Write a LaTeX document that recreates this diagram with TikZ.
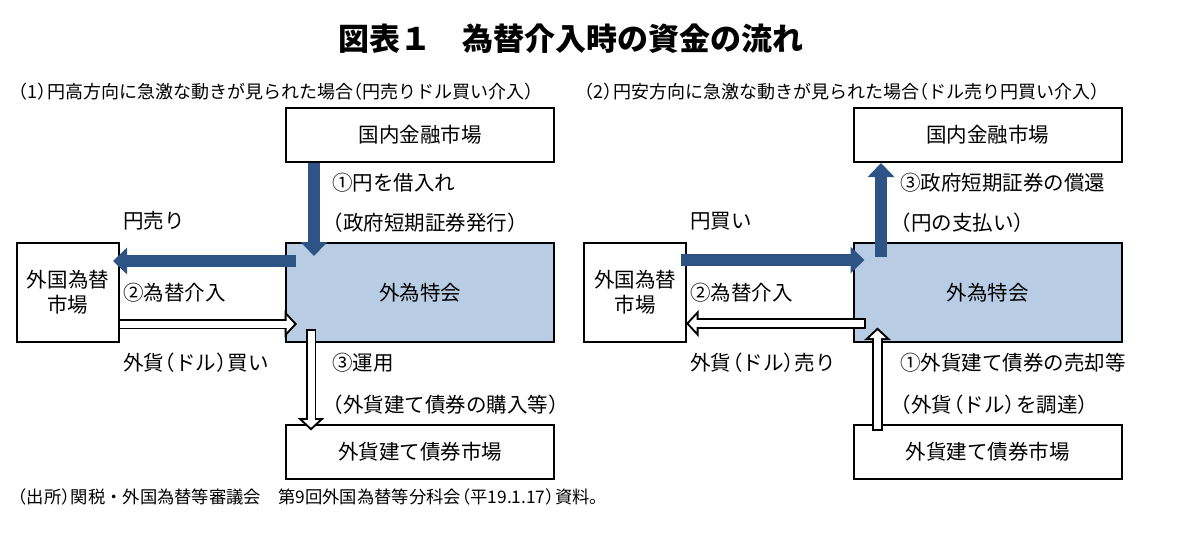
\documentclass[tikz,border=0pt]{standalone}
\usepackage{fontspec}
\setmainfont{Noto Sans CJK JP}
\usetikzlibrary{arrows.meta}
\definecolor{flowblue}{HTML}{2E5385}
\definecolor{boxblue}{HTML}{B8CCE4}
\newcommand{\lp}{\makebox[0.55em][r]{（}}
\newcommand{\rp}{\makebox[0.55em][l]{）}}
\tikzstyle{market} = [rectangle, draw=black, line width=2pt, fill=white, minimum width=268pt,
minimum height=54pt, inner sep=0pt, align=center, font=\fontsize{20.5}{25}\selectfont]
\tikzstyle{account} = [market, fill=boxblue, minimum height=99pt]
\tikzstyle{fxmarket} = [market, minimum width=102pt, minimum height=99pt]
\tikzstyle{flowtext} = [anchor=west, inner sep=0pt, font=\fontsize{20.5}{25}\selectfont]
\tikzstyle{note} = [anchor=west, inner sep=0pt, font=\fontsize{18}{21}\selectfont]
\tikzstyle{bluearrow} = [draw=flowblue, line width=12pt, -{Triangle[width=26pt,length=14pt]}]
\tikzstyle{hollowout} = [draw=black, line width=10.5pt, -{Triangle[width=26pt,length=12.5pt]}]
\tikzstyle{hollowin} = [draw=white, line width=7pt, shorten >=2.8pt, shorten <=1.75pt,
-{Triangle[width=16pt,length=7.7pt]}]
\newcommand{\hollowarrow}[2]{\draw[hollowout] #1 -- #2; \draw[hollowin] #1 -- #2;}

\begin{document}
\begin{tikzpicture}[x=1pt,y=-1pt]
    \useasboundingbox (0,0) rectangle (1198,538);
    \node[font=\fontsize{31}{36}\selectfont\bfseries] (title) at (571,39) {図表１　為替介入時の資金の流れ};
    \node[note] (caseL) at (17,92) {\lp 1\rp 円高方向に急激な動きが見られた場合\lp 円売りドル買い介入\rp};
    \node[note] (caseR) at (583,92) {\lp 2\rp 円安方向に急激な動きが見られた場合\lp ドル売り円買い介入\rp};
    \node[note, font=\fontsize{17.3}{20}\selectfont] (source) at (17,497)
        {\lp 出所\rp 関税・外国為替等審議会　第9回外国為替等分科会\lp 平19.1.17\rp 資料。};

    % (1) yen selling
    \node[market] (domesticL) at (420,135) {国内金融市場};
    \node[account] (tokkaiL) at (420,292.5) {外為特会};
    \node[fxmarket] (fxL) at (68,292.5) {外国為替\\市場};
    \node[market] (bondL) at (420,451.5) {外貨建て債券市場};
    \draw[bluearrow] ([xshift=-106pt]domesticL.south) -- ([xshift=-106pt,yshift=-14pt]tokkaiL.north);
    \draw[bluearrow] ([xshift=11pt,yshift=31.5pt]tokkaiL.west) -- ([xshift=-7pt,yshift=31.5pt]fxL.east);
    \hollowarrow{([xshift=-2pt,yshift=-31.5pt]fxL.east)}{([xshift=12pt,yshift=-31.5pt]tokkaiL.west)}
    \hollowarrow{([xshift=-109pt,yshift=14pt]tokkaiL.south)}{([xshift=-109pt,yshift=-7pt]bondL.north)}
    \node[flowtext] (yensellL) at (123,221) {円売り};
    \node[flowtext] (interveneL) at (123,293) {②為替介入};
    \node[flowtext] (dollarbuyL) at (123,363) {外貨\lp ドル\rp 買い};
    \node[flowtext] (borrowL) at (332,183) {①円を借入れ};
    \node[flowtext] (issueL) at (332,223) {\lp 政府短期証券発行\rp};
    \node[flowtext] (investL) at (332,363) {③運用};
    \node[flowtext] (purchaseL) at (332,405) {\lp 外貨建て債券の購入等\rp};

    % (2) yen buying
    \node[market] (domesticR) at (987.5,135) {国内金融市場};
    \node[account] (tokkaiR) at (987.5,292.5) {外為特会};
    \node[fxmarket] (fxR) at (635,292.5) {外国為替\\市場};
    \node[market] (bondR) at (987.5,451.5) {外貨建て債券市場};
    \draw[bluearrow] ([xshift=-6pt,yshift=32.5pt]fxR.east) -- ([xshift=12pt,yshift=32.5pt]tokkaiR.west);
    \draw[bluearrow] ([xshift=-106.5pt,yshift=-15pt]tokkaiR.north) -- ([xshift=-106.5pt]domesticR.south);
    \hollowarrow{([xshift=13.5pt,yshift=-31pt]tokkaiR.west)}{([xshift=-1pt,yshift=-31pt]fxR.east)}
    \hollowarrow{([xshift=-110pt,yshift=-7pt]bondR.north)}{([xshift=-110pt,yshift=15.5pt]tokkaiR.south)}
    \node[flowtext] (yenbuyR) at (690,221) {円買い};
    \node[flowtext] (interveneR) at (690,293) {②為替介入};
    \node[flowtext] (dollarsellR) at (690,363) {外貨\lp ドル\rp 売り};
    \node[flowtext] (redeemR) at (900,183) {③政府短期証券の償還};
    \node[flowtext] (payR) at (900,223) {\lp 円の支払い\rp};
    \node[flowtext] (sellR) at (900,363) {①外貨建て債券の売却等};
    \node[flowtext] (raiseR) at (900,405) {\lp 外貨\lp ドル\rp を調達\rp};
\end{tikzpicture}
\end{document}
